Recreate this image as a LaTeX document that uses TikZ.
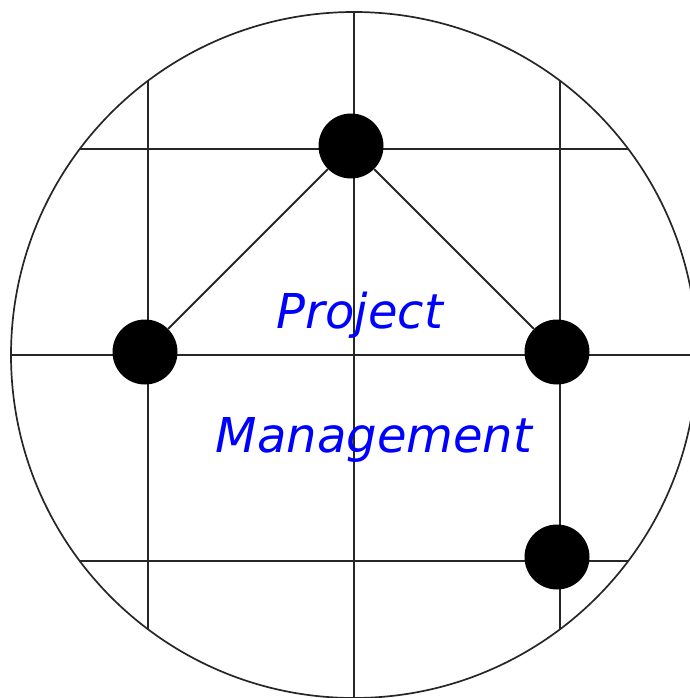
\documentclass[tikz,border=0pt]{standalone}
\usepackage{fontspec}
\newfontfamily\dejavu{DejaVu Sans}
\begin{document}
\begin{tikzpicture}[x=1pt,y=-1pt,
  gridline/.style={line width=1.6pt,black!85},
  hub/.style={circle,fill=black,minimum size=65pt,inner sep=0pt},
  label/.style={text=blue,font=\dejavu\itshape\fontsize{48}{56}\selectfont,inner sep=0pt,anchor=base}]
\useasboundingbox (0,0) rectangle (689,698);
\coordinate (c) at (354,355);
\begin{scope}
  \clip (c) circle (343);
  \draw[gridline] (148,0) -- (148,698);
  \draw[gridline] (354,0) -- (354,698);
  \draw[gridline] (560,0) -- (560,698);
  \draw[gridline] (0,149) -- (700,149);
  \draw[gridline] (0,355) -- (700,355);
  \draw[gridline] (0,561) -- (700,561);
\end{scope}
\draw[line width=1.7pt,black!85] (c) circle (343);
\node[hub] (top) at (351,146) {};
\node[hub] (left) at (145,352) {};
\node[hub] (right) at (557,352) {};
\node[hub] (br) at (557,557) {};
\draw[gridline,line width=1.9pt] (top) -- (left);
\draw[gridline,line width=1.9pt] (top) -- (right);
\node[label] (t1) at (360,328) {Project};
\node[label] (t2) at (374,452) {Management};
\end{tikzpicture}
\end{document}
